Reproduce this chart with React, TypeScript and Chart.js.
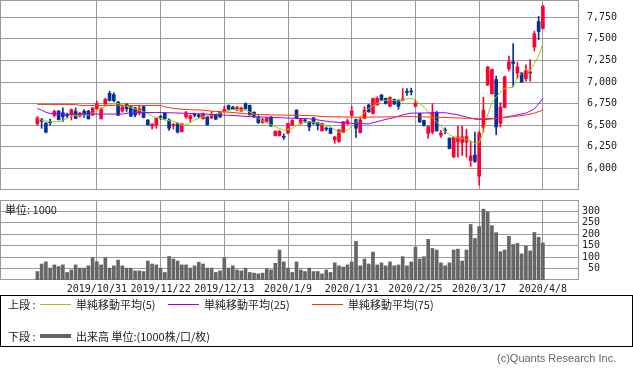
import React, { useEffect, useRef } from "react";
import { Chart, registerables } from "chart.js";
Chart.register(...registerables);

// ---- data (trading-day index 0..119) ----
const tickIndex = [14, 29, 44, 59, 74, 89, 104, 119];
const dateLabels = ["2019/10/31", "2019/11/22", "2019/12/13", "2020/1/9", "2020/1/31", "2020/2/25", "2020/3/17", "2020/4/8"];
const priceTicks = [6000, 6250, 6500, 6750, 7000, 7250, 7500, 7750];
const volumeTicks = [50, 100, 150, 200, 250, 300];

const opens = [
  6515, 6565, 6525, 6545, 6615, 6665, 6645, 6620, 6620, 6660,
  6605, 6660, 6665, 6620, 6690, 6575, 6745, 6870, 6855, 6770,
  6665, 6740, 6715, 6700, 6640, 6715, 6560, 6490, 6505, 6595,
  6640, 6560, 6495, 6520, 6425, 6595, 6575, 6620, 6620, 6575,
  6595, 6585, 6620, 6650, 6660, 6730, 6710, 6690, 6665, 6750,
  6730, 6650, 6595, 6535, 6545, 6595, 6380, 6380, 6370, 6410,
  6500, 6675, 6520, 6555, 6540, 6585, 6530, 6435, 6460, 6465,
  6330, 6310, 6415, 6520, 6615, 6565, 6415, 6580, 6735, 6635,
  6735, 6850, 6810, 6720, 6800, 6790, 6790, 6890, 6890, 6720,
  6635, 6555, 6405, 6420, 6650, 6385, 6440, 6350, 6135, 6310,
  6300, 6305, 6090, 6155, 5910, 6475, 6965, 6865, 7030, 6520,
  6705, 7155, 7235, 7105, 7105, 7040, 7100, 7405, 7700, 7620,
];
const closes = [
  6585, 6545, 6420, 6530, 6660, 6565, 6600, 6610, 6680, 6580,
  6640, 6630, 6575, 6700, 6750, 6690, 6800, 6785, 6785, 6615,
  6710, 6690, 6605, 6620, 6690, 6590, 6505, 6510, 6580, 6590,
  6575, 6465, 6510, 6420, 6515, 6645, 6610, 6615, 6600, 6635,
  6505, 6615, 6570, 6595, 6685, 6685, 6685, 6705, 6700, 6690,
  6620, 6595, 6530, 6565, 6580, 6490, 6430, 6430, 6360, 6520,
  6555, 6580, 6565, 6550, 6480, 6520, 6500, 6520, 6455, 6405,
  6365, 6445, 6540, 6550, 6665, 6465, 6560, 6675, 6655, 6810,
  6810, 6790, 6750, 6820, 6745, 6720, 6805, 6880, 6885, 6755,
  6540, 6500, 6485, 6650, 6435, 6410, 6435, 6230, 6360, 6365,
  6365, 6370, 6145, 6080, 6410, 6675, 7175, 7145, 6480, 6710,
  7060, 7235, 7215, 7175, 7000, 7135, 7120, 7560, 7585, 7875,
];
const highs = [
  6600, 6580, 6530, 6570, 6675, 6670, 6700, 6640, 6690, 6700,
  6650, 6680, 6670, 6705, 6780, 6700, 6815, 6895, 6875, 6775,
  6730, 6750, 6725, 6710, 6720, 6720, 6565, 6520, 6585, 6615,
  6645, 6575, 6520, 6530, 6520, 6660, 6620, 6640, 6630, 6640,
  6600, 6660, 6625, 6655, 6720, 6735, 6720, 6720, 6710, 6760,
  6735, 6655, 6610, 6580, 6590, 6600, 6435, 6440, 6400, 6525,
  6565, 6680, 6575, 6570, 6545, 6590, 6535, 6525, 6480, 6470,
  6370, 6450, 6545, 6570, 6720, 6570, 6580, 6715, 6740, 6815,
  6830, 6855, 6815, 6830, 6805, 6795, 6925, 6925, 6930, 6790,
  6640, 6560, 6490, 6750, 6660, 6440, 6470, 6355, 6365, 6490,
  6490, 6455, 6315, 6420, 6430, 6825, 7180, 7150, 7070, 6760,
  7070, 7300, 7445, 7230, 7110, 7200, 7260, 7590, 7760, 7890,
];
const lows = [
  6500, 6465, 6410, 6500, 6595, 6560, 6545, 6590, 6560, 6575,
  6595, 6590, 6570, 6610, 6685, 6570, 6740, 6780, 6770, 6610,
  6650, 6660, 6600, 6595, 6620, 6585, 6500, 6455, 6465, 6565,
  6570, 6440, 6455, 6410, 6420, 6580, 6540, 6595, 6590, 6570,
  6500, 6575, 6565, 6590, 6655, 6680, 6680, 6670, 6660, 6685,
  6615, 6590, 6520, 6520, 6530, 6485, 6375, 6375, 6335, 6400,
  6495, 6575, 6510, 6530, 6435, 6510, 6445, 6430, 6435, 6400,
  6290, 6300, 6410, 6505, 6600, 6360, 6410, 6575, 6650, 6630,
  6730, 6785, 6745, 6715, 6740, 6685, 6780, 6845, 6850, 6710,
  6530, 6490, 6350, 6400, 6430, 6360, 6400, 6225, 6125, 6130,
  6150, 6130, 6025, 6070, 5805, 6420, 6960, 6860, 6390, 6480,
  6700, 7130, 6945, 7040, 6995, 7010, 7010, 7360, 7490, 7615,
];
const volumes = [
  37, 70, 79, 52, 66, 59, 66, 33, 44, 66,
  52, 52, 62, 97, 80, 66, 97, 52, 62, 87,
  62, 52, 52, 40, 40, 37, 83, 70, 66, 52,
  33, 103, 92, 83, 66, 66, 52, 62, 78, 70,
  52, 52, 33, 40, 97, 52, 62, 44, 40, 52,
  33, 30, 27, 30, 49, 44, 73, 131, 79, 52,
  33, 79, 44, 37, 52, 37, 37, 27, 44, 33,
  75, 62, 57, 66, 79, 169, 62, 92, 70, 122,
  66, 75, 62, 79, 62, 66, 102, 62, 79, 144,
  92, 102, 178, 138, 131, 75, 62, 75, 131, 135,
  83, 131, 243, 182, 234, 310, 298, 238, 207, 124,
  131, 191, 155, 160, 114, 148, 127, 208, 187, 162,
];
// moving averages: [day index, value]
const ma5 = [
  [0, 6578], [1, 6559], [3, 6540], [5, 6540], [7, 6578], [8, 6605], [10, 6617], [12, 6617], [14, 6660], [15, 6694],
  [17, 6744], [19, 6750], [21, 6721], [23, 6690], [24, 6675], [26, 6636], [27, 6605], [29, 6578], [30, 6560], [32, 6545],
  [34, 6501], [35, 6505], [36, 6528], [37, 6560], [39, 6598], [41, 6617], [44, 6655], [46, 6683], [49, 6675], [51, 6628],
  [52, 6578], [54, 6528], [56, 6482], [58, 6444], [60, 6463], [62, 6530], [64, 6540], [66, 6525], [69, 6480], [71, 6420],
  [72, 6413], [73, 6444], [75, 6528], [76, 6600], [78, 6694], [80, 6752], [81, 6783], [83, 6795], [85, 6780], [87, 6805],
  [88, 6810], [89, 6790], [91, 6710], [92, 6655], [93, 6590], [94, 6540], [95, 6485], [96, 6430], [97, 6390], [98, 6360],
  [100, 6350], [102, 6320], [103, 6285], [104, 6300], [105, 6430], [106, 6620], [107, 6760], [108, 6829], [110, 6925], [112, 6944],
  [113, 7050], [115, 7145], [116, 7125], [117, 7214], [118, 7300], [119, 7446],
];
const ma25 = [
  [0, 6694], [1, 6675], [2, 6650], [3, 6636], [6, 6628], [20, 6630], [22, 6645], [28, 6648], [34, 6640], [39, 6630],
  [45, 6615], [50, 6600], [58, 6585], [64, 6575], [69, 6540], [74, 6522], [78, 6515], [81, 6555], [84, 6590], [86, 6620],
  [88, 6640], [96, 6645], [99, 6620], [103, 6570], [106, 6568], [109, 6585], [112, 6610], [115, 6640], [117, 6690], [119, 6810],
];
const ma75 = [
  [0, 6741], [9, 6741], [10, 6729], [29, 6729], [30, 6713], [32, 6694], [36, 6679], [39, 6675], [41, 6663], [46, 6648],
  [50, 6628], [55, 6620], [64, 6612], [68, 6600], [75, 6592], [88, 6600], [96, 6590], [104, 6575], [108, 6580], [112, 6600],
  [115, 6618], [117, 6640], [119, 6675],
];

const X_MIN = -8.8;
const X_MAX = 127.5;
const GRID = "#999999";
const UP = "#ff0033";
const DOWN = "#003399";
const AXIS_FONT = { family: "'DejaVu Sans Mono', monospace", size: 10 };

const frame = {
  id: "frame",
  beforeDatasetsDraw(chart: any) {
    const { ctx, chartArea: a } = chart;
    ctx.save();
    ctx.strokeStyle = GRID;
    ctx.lineWidth = 1;
    const l = Math.round(a.left), t = Math.round(a.top), r = Math.round(a.right), b = Math.round(a.bottom);
    ctx.strokeRect(l + 0.5, t + 0.5, r - l - 1, b - t - 1);
    ctx.restore();
  },
};

const txt: React.CSSProperties = {
  position: "absolute",
  fontFamily: "'Noto Sans CJK JP', sans-serif",
  fontSize: 11,
  lineHeight: "12px",
  whiteSpace: "nowrap",
  color: "#222",
};

export default function App() {
  const pRef = useRef<HTMLCanvasElement>(null);
  const vRef = useRef<HTMLCanvasElement>(null);

  useEffect(() => {
    document.body.style.margin = "0";
    const candleColors = opens.map((o, i) => (closes[i] >= o ? UP : DOWN));
    const maLine = (pts: number[][], color: string) => ({
      type: "line" as const,
      data: pts.map(([x, y]) => ({ x, y })),
      borderColor: color,
      borderWidth: 1,
      pointRadius: 0,
      tension: 0,
      fill: false,
      order: 0,
    });

    const xAxis = (showLabels: boolean) => ({
      type: "linear",
      min: X_MIN,
      max: X_MAX,
      offset: false,
      afterBuildTicks: (a: any) => { a.ticks = tickIndex.map((v) => ({ value: v })); },
      afterFit: (s: any) => { s.height = showLabels ? 16 : 0; },
      ticks: showLabels
        ? {
            autoSkip: false,
            maxRotation: 0,
            minRotation: 0,
            padding: 3,
            font: AXIS_FONT,
            color: "#222",
            callback: (_v: any, i: number) => dateLabels[i],
          }
        : { display: false },
      grid: { color: GRID, drawTicks: false, offset: false },
      border: { display: false },
    });

    const pc = new Chart(pRef.current!, {
      type: "bar",
      data: {
        datasets: [
          maLine(ma75, "#ff3300") as any,
          maLine(ma25, "#9900ff") as any,
          maLine(ma5, "#99cc00") as any,
          {
            type: "bar",
            data: opens.map((o, i) => ({ x: i, y: [o, closes[i]] })),
            backgroundColor: candleColors,
            barThickness: 3,
            minBarLength: 1,
            grouped: false,
            order: 1,
          },
          {
            type: "bar",
            data: lows.map((l, i) => ({ x: i, y: [l, highs[i]] })),
            backgroundColor: candleColors,
            barThickness: 1,
            grouped: false,
            order: 2,
          },
        ],
      },
      options: {
        animation: false,
        responsive: false,
        layout: { padding: { top: 0, bottom: 1, left: 0, right: 0 } },
        plugins: { legend: { display: false }, tooltip: { enabled: false } },
        scales: {
          x: xAxis(false),
          y: {
            position: "right",
            min: 5750,
            max: 7950,
            afterBuildTicks: (a: any) => { a.ticks = priceTicks.map((v) => ({ value: v })); },
            afterFit: (s: any) => { s.width = 54; s.paddingTop = 0; s.paddingBottom = 0; },
            ticks: {
              padding: 8,
              autoSkip: false,
              font: AXIS_FONT,
              color: "#222",
              callback: (v: any) => Number(v).toLocaleString("en-US"),
            },
            grid: { color: GRID, drawTicks: false },
            border: { display: false },
          },
        },
      } as any,
      plugins: [frame],
    });

    const vc = new Chart(vRef.current!, {
      type: "bar",
      data: {
        datasets: [
          {
            data: volumes.map((v, i) => ({ x: i, y: v })),
            backgroundColor: "#666666",
            barThickness: 3,
            grouped: false,
          },
        ],
      },
      options: {
        animation: false,
        responsive: false,
        layout: { padding: 0 },
        plugins: { legend: { display: false }, tooltip: { enabled: false } },
        scales: {
          x: xAxis(true),
          y: {
            position: "right",
            min: 0,
            max: 350,
            afterBuildTicks: (a: any) => { a.ticks = volumeTicks.map((v) => ({ value: v })); },
            afterFit: (s: any) => { s.width = 21; s.paddingTop = 0; s.paddingBottom = 0; },
            ticks: {
              padding: 6,
              autoSkip: false,
              crossAlign: "far",
              font: AXIS_FONT,
              color: "#222",
            },
            grid: { color: GRID, drawTicks: false },
            border: { display: false },
          },
        },
      } as any,
      plugins: [frame],
    });

    return () => {
      pc.destroy();
      vc.destroy();
    };
  }, []);

  return (
    <div style={{ position: "absolute", left: 0, top: 0, width: 633, height: 374, background: "#fff", overflow: "hidden" }}>
      <canvas ref={pRef} width={633} height={191} style={{ position: "absolute", left: 0, top: 0, width: 633, height: 191 }} />
      <canvas ref={vRef} width={600} height={96} style={{ position: "absolute", left: 0, top: 200, width: 600, height: 96 }} />
      <div style={{ ...txt, left: 5, top: 203 }}>単位: 1000</div>

      <div style={{ position: "absolute", left: 0, top: 295, width: 633, height: 52, border: "1px solid #000", boxSizing: "border-box" }} />
      <div style={{ ...txt, left: 8, top: 298 }}>上段 :</div>
      <div style={{ position: "absolute", left: 40, top: 304, width: 31, height: 1, background: "#99cc00" }} />
      <div style={{ ...txt, left: 76, top: 298 }}>単純移動平均(5)</div>
      <div style={{ position: "absolute", left: 168, top: 304, width: 31, height: 1, background: "#9900ff" }} />
      <div style={{ ...txt, left: 204, top: 298 }}>単純移動平均(25)</div>
      <div style={{ position: "absolute", left: 312, top: 304, width: 31, height: 1, background: "#ff3300" }} />
      <div style={{ ...txt, left: 348, top: 298 }}>単純移動平均(75)</div>

      <div style={{ ...txt, left: 8, top: 330 }}>下段 :</div>
      <div style={{ position: "absolute", left: 40, top: 334, width: 31, height: 4, background: "#666666" }} />
      <div style={{ ...txt, left: 76, top: 330 }}>出来高 単位:(1000株/口/枚)</div>

      <div style={{ ...txt, left: 497, top: 352, color: "#666", fontFamily: "'Liberation Sans', Arial, sans-serif" }}>(c)Quants Research Inc.</div>
    </div>
  );
}
